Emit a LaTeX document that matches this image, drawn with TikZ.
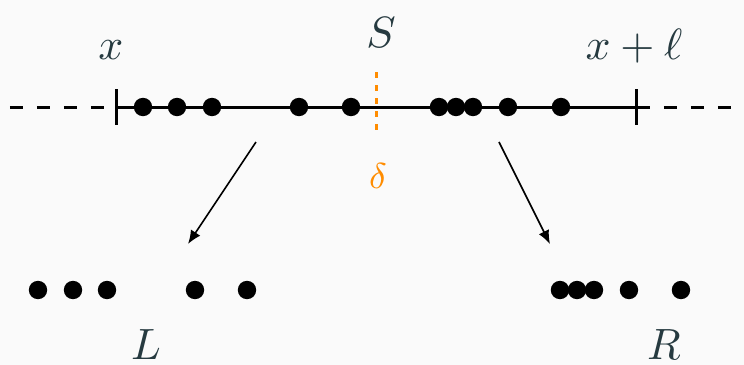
\documentclass[tikz,border=0pt]{standalone}
\usetikzlibrary{arrows.meta}
\definecolor{bgcol}{HTML}{FAFAFA}
\definecolor{labcol}{HTML}{263A40}
\definecolor{cutcol}{HTML}{FF8C00}
\begin{document}
\begin{tikzpicture}[x=0.25pt,y=-0.25pt,
  dot/.style={circle, fill=black, inner sep=0pt, minimum size=4.6pt},
  lab/.style={text=labcol, inner sep=0pt, font=\fontsize{11}{13}\selectfont},
  axis/.style={line width=0.75pt},
  ext/.style={line width=0.75pt, dash pattern=on 3.25pt off 3.5pt},
  tick/.style={line width=0.75pt},
  split/.style={-{Latex[length=3.4pt,width=2.8pt]}, line width=0.4pt}]
\fill[bgcol] (0,0) rectangle (744,365);
\useasboundingbox (0,0) rectangle (744,365);
% interval
\coordinate (a) at (117,107);
\coordinate (b) at (637,107);
\coordinate (a0) at (10,107);
\coordinate (b0) at (744,107);
\path[draw,ext] (a0) -- (a);
\path[draw,ext] (b) -- (b0);
\path[draw,axis] (a) -- (b);
\path[draw,tick] ([yshift=4.5pt]a) -- ([yshift=-4.5pt]a);
\path[draw,tick] ([yshift=4.5pt]b) -- ([yshift=-4.5pt]b);
\node[lab] (x) at (111,50) {$x$};
\node[lab] (xl) at (634,46) {$x+\ell$};
% cut
\coordinate (s1) at (377,72);
\coordinate (s2) at (377,130);
\path[draw,cutcol,line width=0.75pt,dash pattern=on 1.5pt off 1.75pt] (s1) -- (s2);
\node[lab] (S) at (381,33) {$S$};
\node[text=cutcol, inner sep=0pt] (d) at (378,176) {\small$\delta$};
% points
\node[dot] (1) at (143,107) {};
\node[dot] (2) at (177,107) {};
\node[dot] (3) at (212,107) {};
\node[dot] (4) at (299,107) {};
\node[dot] (5) at (351,107) {};
\node[dot] (6) at (439,107) {};
\node[dot] (7) at (456,107) {};
\node[dot] (8) at (473,107) {};
\node[dot] (9) at (508,107) {};
\node[dot] (10) at (561,107) {};
% left part
\node[dot] (l1) at (38,290) {};
\node[dot] (l2) at (73,290) {};
\node[dot] (l3) at (107,290) {};
\node[dot] (l4) at (195,290) {};
\node[dot] (l5) at (247,290) {};
\node[lab] (L) at (146,345) {$L$};
% right part
\node[dot] (r1) at (560,290) {};
\node[dot] (r2) at (577,290) {};
\node[dot] (r3) at (594,290) {};
\node[dot] (r4) at (629,290) {};
\node[dot] (r5) at (681,290) {};
\node[lab] (R) at (664,345) {$R$};
% arrows
\coordinate (p1) at (256,142);
\coordinate (q1) at (188,244);
\coordinate (p2) at (499,142);
\coordinate (q2) at (550,244);
\path[draw,split] (p1) -- (q1);
\path[draw,split] (p2) -- (q2);
\end{tikzpicture}
\end{document}
